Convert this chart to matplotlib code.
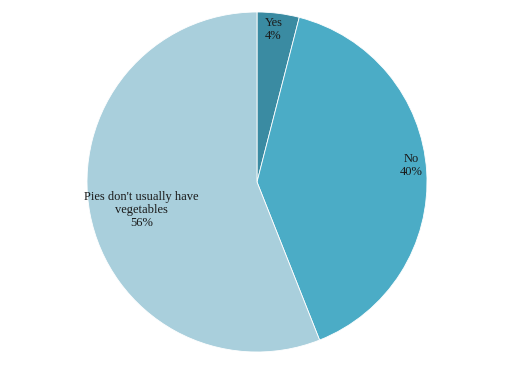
import numpy as np
import matplotlib.pyplot as plt

labels = ['Yes', 'No', "Pies don't usually have\nvegetables"]
values = [4, 40, 56]
colors = ['#3a8ba2', '#4bacc6', '#a9cfdc']

fig = plt.figure(figsize=(5.2, 3.65), dpi=100)
ax = fig.add_axes([87 / 520, 13 / 365, 340 / 520, 340 / 365])

wedges, _ = ax.pie(values, colors=colors, startangle=90, counterclock=False,
                   radius=1, wedgeprops=dict(edgecolor='white', linewidth=0.6))

# label placement per slice: distance from centre, angle shift (deg)
dists = [0.90, 0.91, 0.70]
shifts = [1.0, 2.5, 3.0]
for w, lab, v, d, s in zip(wedges, labels, values, dists, shifts):
    ang = np.deg2rad((w.theta1 + w.theta2) / 2 + s)
    x, y = d * np.cos(ang), d * np.sin(ang)
    ax.text(x, y, f'{lab}\n{v}%', ha='center', va='center', fontsize=9,
            family='Liberation Serif', color='#1a1a1a', linespacing=1.1)

ax.set_xlim(-1, 1)
ax.set_ylim(-1, 1)
ax.set_aspect('equal')
ax.axis('off')

fig.savefig('out.png', dpi=100)
